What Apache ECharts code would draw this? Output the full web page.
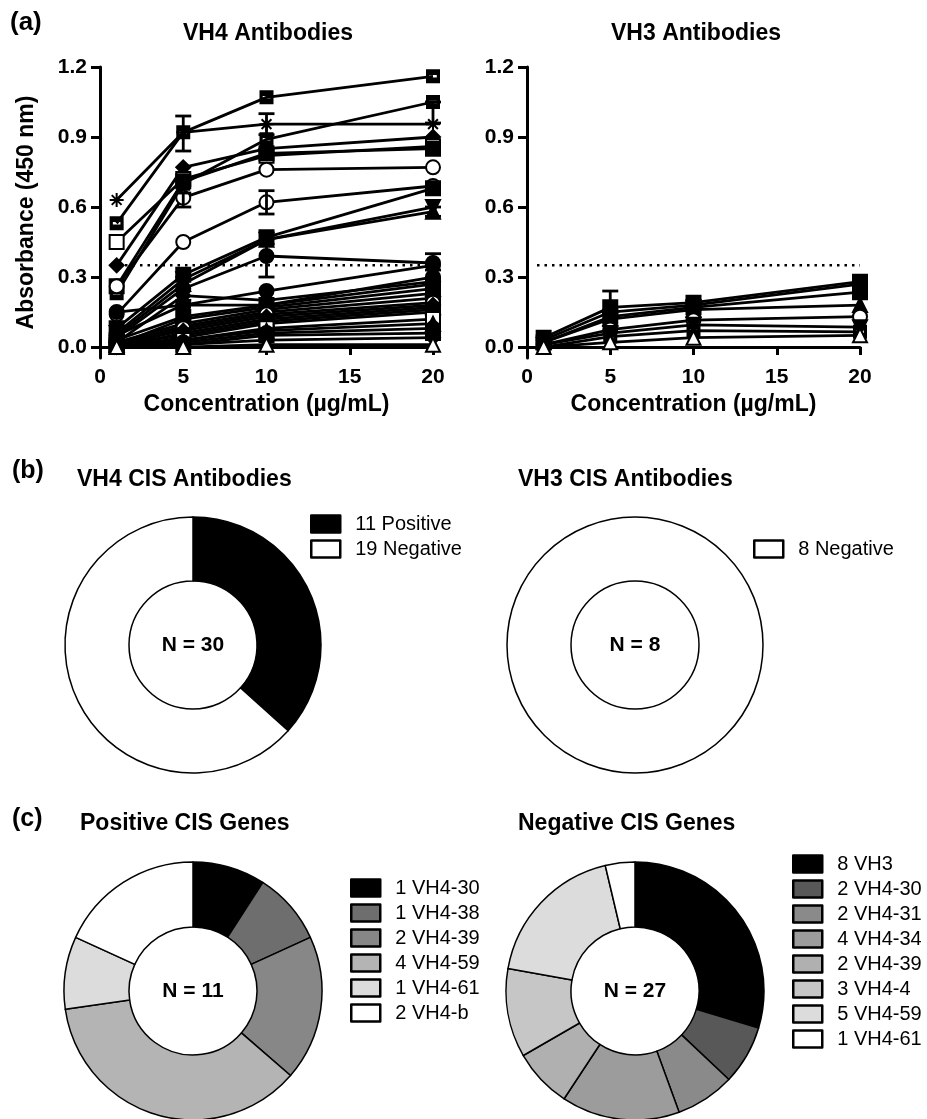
<!DOCTYPE html>
<html>
<head>
<meta charset="utf-8">
<script src="https://cdn.jsdelivr.net/npm/echarts@6.0.0/dist/echarts.min.js"></script>
<style>
  html, body { margin: 0; padding: 0; background: #fff; }
  #chart { width: 927px; height: 1119px; }
</style>
</head>
<body>
<div id="chart"></div>
<script>
  const FONT = '"Liberation Sans", Arial, sans-serif';

  // x values (µg/mL) and y tick labels
  const conc = [1, 5, 10, 20];
  const yTicks = [0, 0.3, 0.6, 0.9, 1.2];
  const cutoff = 0.35;
  const cutoffFrom = 0.6;

  // VH4 antibodies, absorbance at 1, 5, 10, 20 µg/mL
  const vh4Values = [
    [0.53, 0.92, 1.07, 1.16],
    [0.63, 0.92, 0.955, 0.955],
    [0.23, 0.70, 0.89, 1.05],
    [0.35, 0.77, 0.85, 0.90],
    [0.45, 0.72, 0.82, 0.86],
    [0.26, 0.71, 0.83, 0.85],
    [0.26, 0.64, 0.76, 0.77],
    [0.14, 0.45, 0.62, 0.69],
    [0.08, 0.31, 0.47, 0.68],
    [0.06, 0.29, 0.46, 0.60],
    [0.05, 0.27, 0.46, 0.58],
    [0.04, 0.25, 0.39, 0.36],
    [0.05, 0.18, 0.24, 0.35],
    [0.15, 0.18, 0.18, 0.30],
    [0.02, 0.22, 0.20, 0.28],
    [0.03, 0.13, 0.18, 0.27],
    [0.01, 0.12, 0.17, 0.25],
    [0.02, 0.10, 0.16, 0.23],
    [0.01, 0.09, 0.15, 0.21],
    [0.00, 0.08, 0.14, 0.19],
    [0.01, 0.07, 0.13, 0.18],
    [0.00, 0.06, 0.12, 0.17],
    [0.01, 0.05, 0.11, 0.16],
    [0.00, 0.04, 0.10, 0.15],
    [0.00, 0.03, 0.08, 0.12],
    [0.01, 0.03, 0.07, 0.10],
    [0.00, 0.02, 0.06, 0.08],
    [0.00, 0.01, 0.05, 0.06],
    [0.00, 0.01, 0.03, 0.04],
    [0.00, 0.00, 0.01, 0.01]
  ];
  const vh4Symbols = [
    'dashRect', 'asterisk', 'dashRect', 'diamond', 'emptyRect', 'rect', 'emptyCircle', 'emptyCircle',
    'rect', 'invTriangle', 'triangle', 'circle', 'circle', 'circle', 'diamond', 'rect',
    'triangle', 'circle', 'rect', 'emptyCircle', 'diamond', 'triangle', 'rect', 'circle',
    'emptyRect', 'triangle', 'circle', 'rect', 'diamond', 'emptyTriangle'
  ];
  // [x, low, high]
  const vh4Errors = [
    [5, 0.84, 0.99], [10, 0.91, 1.00], [5, 0.60, 0.66], [10, 0.57, 0.67],
    [10, 0.30, 0.44], [20, 0.33, 0.40], [20, 0.56, 0.60], [5, 0.20, 0.30],
    [20, 0.96, 1.05]
  ];

  // VH3 antibodies
  const vh3Values = [
    [0.04, 0.17, 0.19, 0.28],
    [0.03, 0.15, 0.18, 0.27],
    [0.02, 0.13, 0.17, 0.235],
    [0.02, 0.12, 0.16, 0.18],
    [0.01, 0.075, 0.115, 0.13],
    [0.01, 0.06, 0.095, 0.085],
    [0.00, 0.045, 0.07, 0.065],
    [0.00, 0.02, 0.04, 0.05]
  ];
  const vh3Symbols = ['rect', 'circle', 'rect', 'triangle', 'emptyCircle', 'invTriangle', 'dashRect', 'emptyTriangle'];
  const vh3Errors = [[5, 0.15, 0.24], [10, 0.16, 0.20], [20, 0.26, 0.30]];

  // (b) CIS antibodies
  const vh4CisNames = ['Positive', 'Negative'];
  const vh4CisCounts = [11, 19];
  const vh4CisColors = ['#000000', '#ffffff'];
  const vh3CisNames = ['Negative'];
  const vh3CisCounts = [8];
  const vh3CisColors = ['#ffffff'];

  // (c) CIS genes
  const posGenes = ['VH4-30', 'VH4-38', 'VH4-39', 'VH4-59', 'VH4-61', 'VH4-b'];
  const posCounts = [1, 1, 2, 4, 1, 2];
  const posColors = ['#000000', '#6e6e6e', '#878787', '#b4b4b4', '#dcdcdc', '#ffffff'];
  const negGenes = ['VH3', 'VH4-30', 'VH4-31', 'VH4-34', 'VH4-39', 'VH4-4', 'VH4-59', 'VH4-61'];
  const negCounts = [8, 2, 2, 4, 2, 3, 5, 1];
  const negColors = ['#000000', '#585858', '#8a8a8a', '#9c9c9c', '#b0b0b0', '#c6c6c6', '#dcdcdc', '#ffffff'];

  // Prism-like marker shapes not built into echarts
  const symbolPaths = {
    asterisk: 'path://M5,0L5,10M0,5L10,5M1.5,1.5L8.5,8.5M8.5,1.5L1.5,8.5',
    invTriangle: 'path://M0,0L10,0L5,9Z',
    dashRect: 'path://M0,0H10V10H0Z M2.3,4.1V5.9H7.7V4.1Z'
  };

  const axisText = { color: '#000', fontFamily: FONT, fontWeight: 'bold', fontSize: 21 };

  const xAxis = (gi) => ({
    type: 'value', gridIndex: gi, min: 0, max: 20, interval: 5,
    axisLine: { lineStyle: { color: '#000', width: 3 } },
    axisTick: { length: 8, lineStyle: { color: '#000', width: 3 } },
    axisLabel: { ...axisText, margin: 9 },
    splitLine: { show: false },
    name: 'Concentration (µg/mL)', nameLocation: 'middle', nameGap: 35,
    nameTextStyle: { ...axisText, fontSize: 23 }
  });
  const yAxis = (gi, name) => ({
    type: 'value', gridIndex: gi, min: -0.047, max: 1.2,
    axisLine: { show: true, lineStyle: { color: '#000', width: 3 } },
    axisTick: { show: true, length: 9, customValues: yTicks, lineStyle: { color: '#000', width: 3 } },
    axisLabel: { ...axisText, margin: 13, customValues: yTicks, formatter: (v) => v.toFixed(1) },
    splitLine: { show: false },
    name: name, nameLocation: 'middle', nameGap: 62,
    nameTextStyle: { ...axisText, fontSize: 23 }
  });

  const lineSeries = (values, symbols, gi) => values.map((vals, i) => {
    const sym = symbols[i % symbols.length];
    const hollow = sym.indexOf('empty') === 0;
    return {
      type: 'line', xAxisIndex: gi, yAxisIndex: gi,
      data: conc.map((c, j) => [c, vals[j]]),
      symbol: symbolPaths[sym] || sym,
      symbolSize: 14,
      lineStyle: { color: '#000', width: 2.8 },
      itemStyle: {
        color: '#000', borderColor: '#000',
        borderWidth: hollow ? 3.5 : (sym === 'dashRect' ? 0 : 2)
      },
      emphasis: { disabled: true },
      z: 3
    };
  });

  const errorSeries = (errs, gi) => ({
    type: 'custom', xAxisIndex: gi, yAxisIndex: gi,
    data: errs,
    encode: { x: 0, y: [1, 2] },
    z: 4,
    renderItem: (params, api) => {
      const x = api.value(0);
      const lo = api.coord([x, api.value(1)]);
      const hi = api.coord([x, api.value(2)]);
      const w = 8;
      const st = { stroke: '#000', lineWidth: 2.8 };
      return {
        type: 'group',
        children: [
          { type: 'line', shape: { x1: lo[0], y1: lo[1], x2: hi[0], y2: hi[1] }, style: st },
          { type: 'line', shape: { x1: lo[0] - w, y1: lo[1], x2: lo[0] + w, y2: lo[1] }, style: st },
          { type: 'line', shape: { x1: hi[0] - w, y1: hi[1], x2: hi[0] + w, y2: hi[1] }, style: st }
        ]
      };
    }
  });

  const cutoffSeries = (gi) => ({
    type: 'line', xAxisIndex: gi, yAxisIndex: gi,
    data: [[cutoffFrom, cutoff], [20, cutoff]],
    symbol: 'none',
    lineStyle: { color: '#000', width: 2.5, type: [2.5, 5] },
    z: 2
  });

  const pieSeries = (center, radius, names, counts, colors) => ({
    type: 'pie', center: center, radius: radius, startAngle: 90, clockwise: true,
    label: { show: false }, labelLine: { show: false },
    emphasis: { disabled: true }, silent: true,
    itemStyle: { borderColor: '#000', borderWidth: 1.5 },
    data: names.map((n, i) => ({ name: counts[i] + ' ' + n, value: counts[i], itemStyle: { color: colors[i] } }))
  });

  const pieLegend = (left, top, names, counts, colors) => ({
    orient: 'vertical', left: left, top: top, padding: 0,
    icon: 'rect', itemWidth: 29, itemHeight: 17, itemGap: 5,
    selectedMode: false,
    textStyle: { color: '#000', fontFamily: FONT, fontSize: 20, lineHeight: 17, padding: [0, 0, 0, 10] },
    data: names.map((n, i) => ({
      name: counts[i] + ' ' + n,
      itemStyle: { color: colors[i], borderColor: '#000', borderWidth: 2.5 }
    }))
  });

  const txt = (text, x, y, size, align, weight) => ({
    type: 'text', x: x, y: y, silent: true,
    style: {
      text: text, fill: '#000', fontFamily: FONT, fontSize: size,
      fontWeight: weight || 'bold', align: align || 'left', verticalAlign: 'middle'
    }
  });

  const option = {
    animation: false,
    backgroundColor: '#fff',
    grid: [
      { left: 100, top: 67, width: 333, height: 291, outerBoundsMode: 'none' },
      { left: 527, top: 67, width: 333, height: 291, outerBoundsMode: 'none' }
    ],
    xAxis: [xAxis(0), xAxis(1)],
    yAxis: [yAxis(0, 'Absorbance (450 nm)'), yAxis(1, '')],
    legend: [
      pieLegend(310, 514, vh4CisNames, vh4CisCounts, vh4CisColors),
      pieLegend(753, 539, vh3CisNames, vh3CisCounts, vh3CisColors),
      pieLegend(350, 878, posGenes, posCounts, posColors),
      pieLegend(792, 854, negGenes, negCounts, negColors)
    ],
    graphic: [
      txt('(a)', 10, 23, 26),
      txt('VH4 Antibodies', 268, 34, 23, 'center'),
      txt('VH3 Antibodies', 696, 34, 23, 'center'),
      txt('(b)', 12, 471, 25),
      txt('VH4 CIS Antibodies', 77, 480, 23),
      txt('VH3 CIS Antibodies', 518, 480, 23),
      txt('(c)', 12, 819, 25),
      txt('Positive CIS Genes', 80, 824, 23),
      txt('Negative CIS Genes', 518, 824, 23),
      txt('N = 30', 193, 645, 21, 'center'),
      txt('N = 8', 635, 645, 21, 'center'),
      txt('N = 11', 193, 991, 21, 'center'),
      txt('N = 27', 635, 991, 21, 'center')
    ],
    series: [
      cutoffSeries(0),
      cutoffSeries(1),
      ...lineSeries(vh4Values, vh4Symbols, 0),
      ...lineSeries(vh3Values, vh3Symbols, 1),
      errorSeries(vh4Errors, 0),
      errorSeries(vh3Errors, 1),
      pieSeries([193, 645], [64, 128], vh4CisNames, vh4CisCounts, vh4CisColors),
      pieSeries([635, 645], [64, 128], vh3CisNames, vh3CisCounts, vh3CisColors),
      pieSeries([193, 991], [64, 129], posGenes, posCounts, posColors),
      pieSeries([635, 991], [64, 129], negGenes, negCounts, negColors)
    ]
  };

  const chart = echarts.init(document.getElementById('chart'));
  chart.setOption(option);
</script>
</body>
</html>
